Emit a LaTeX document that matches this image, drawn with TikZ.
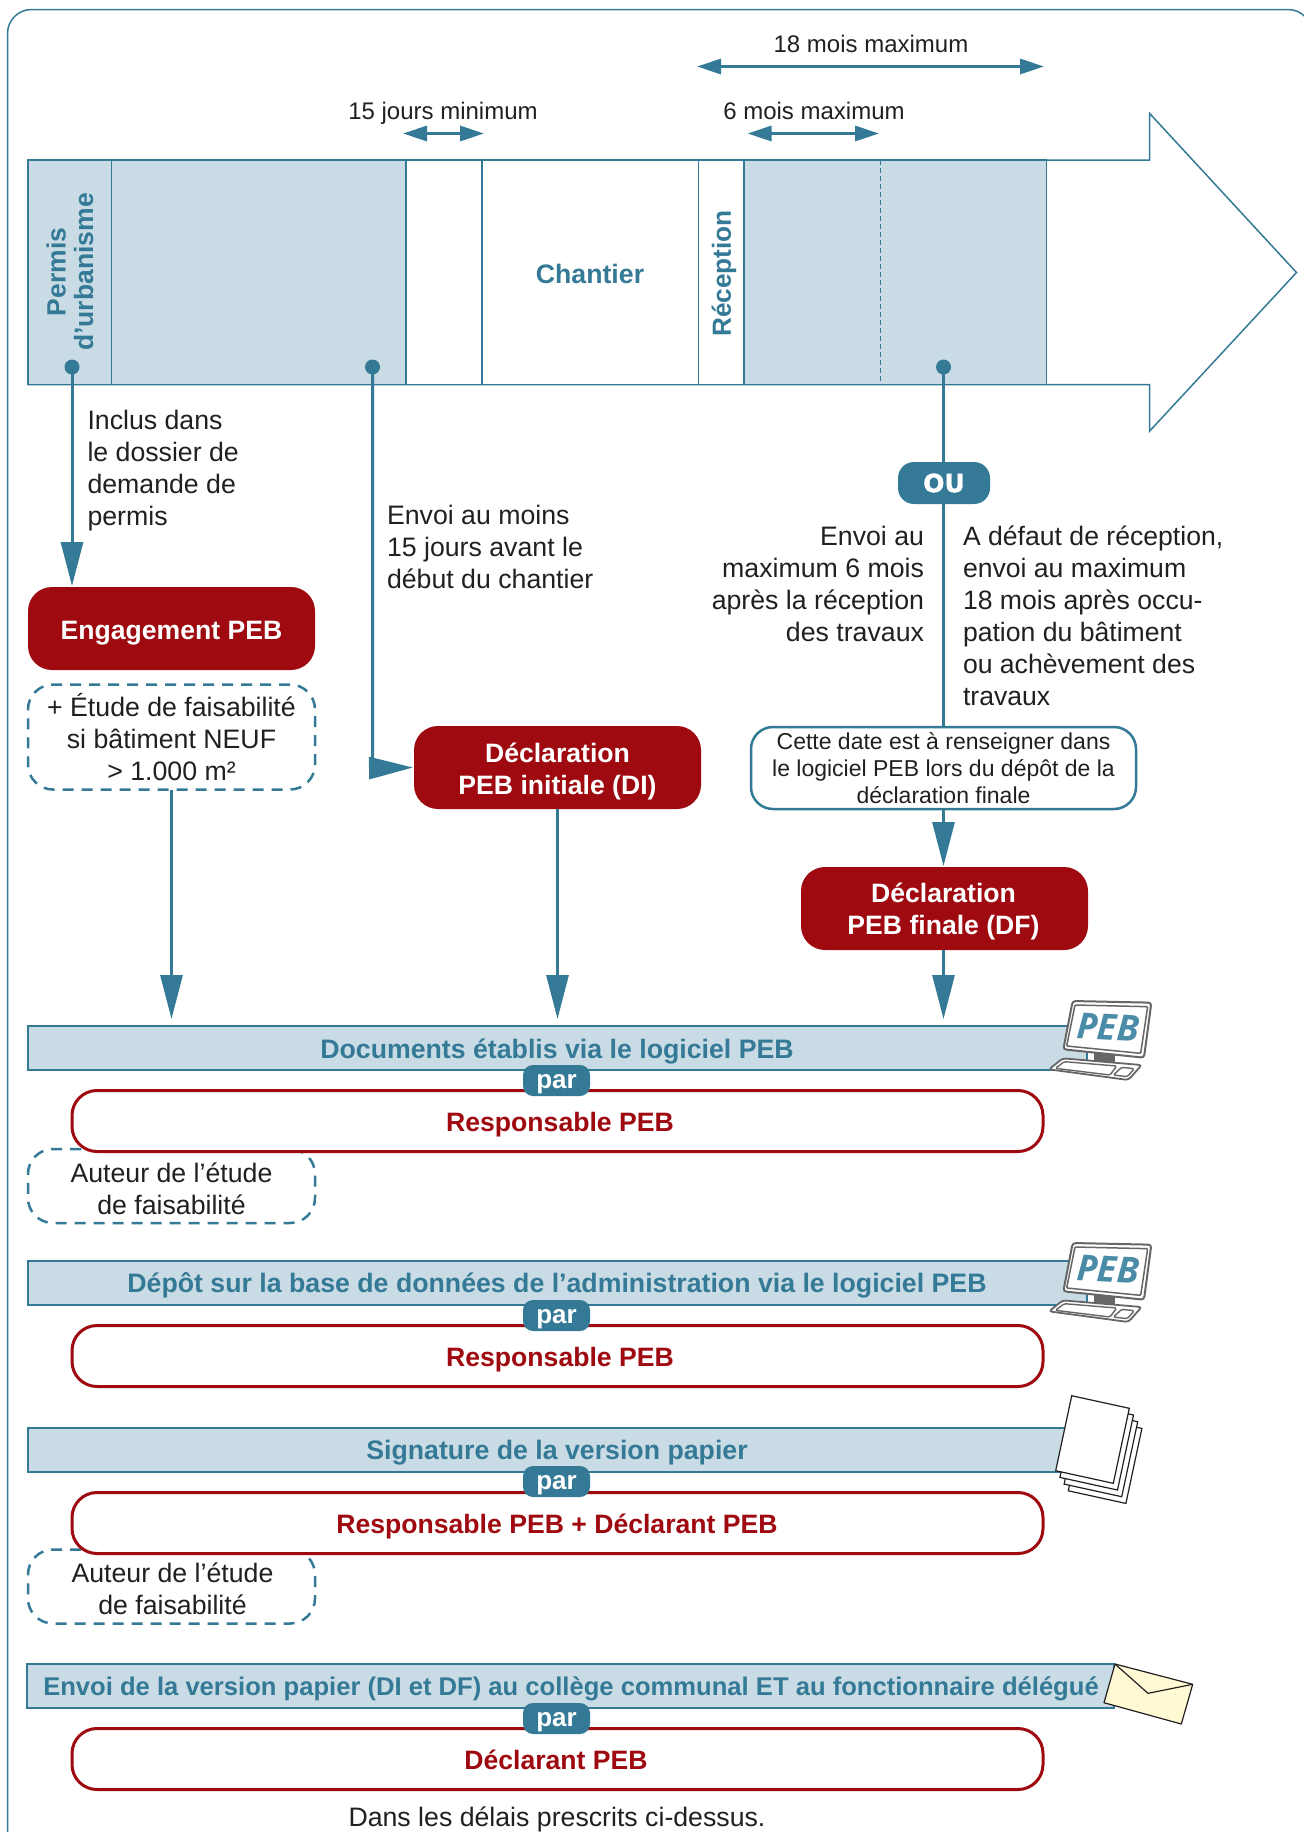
\documentclass[tikz,border=0pt]{standalone}
\usepackage{fontspec}
\setmainfont{Liberation Sans}
\newfontfamily\pebfont{Open Sans}
\newfontfamily\oufont[BoldFeatures={FakeBold=1.5}]{DejaVu Sans}
\usetikzlibrary{arrows.meta}
\definecolor{teal}{HTML}{347A96}
\definecolor{pale}{HTML}{C9DBE5}
\definecolor{wine}{HTML}{9E0A10}
\definecolor{ink}{HTML}{231F20}
\definecolor{scr}{HTML}{666666}
\definecolor{pebblue}{HTML}{4A8CA8}
\definecolor{envy}{HTML}{FFFAD4}
\newcommand{\fs}[2]{\fontsize{#1}{#2}\selectfont}
\tikzset{
  every node/.style={inner sep=0pt,outer sep=0pt,text=ink},
  body/.style={font=\fs{26.7}{32}},
  small/.style={font=\fs{24}{29}},
  cell/.style={rectangle,anchor=north west,minimum height=224.5pt,fill=pale,draw=teal,line width=1.5pt},
  whitecell/.style={cell,fill=white},
  head/.style={font=\bfseries\fs{26.7}{32},text=teal},
  redbox/.style={rectangle,rounded corners=24pt,fill=wine,minimum width=287pt,minimum height=83pt},
  redtext/.style={text=white,font=\bfseries\fs{26.6}{32},align=center},
  dashbox/.style={rectangle,rounded corners=25pt,draw=teal,line width=2.5pt,dash pattern=on 11pt off 8pt,fill=white,minimum width=287pt},
  band/.style={rectangle,anchor=north west,fill=pale,draw=teal,line width=1.5pt,minimum height=44pt},
  pill/.style={rectangle,rounded corners=10pt,fill=teal,minimum width=67pt,minimum height=31pt,text=white,font=\bfseries\fs{26}{30},text height=20pt,text depth=5pt},
  whobox/.style={rectangle,rounded corners=25pt,draw=wine,line width=3pt,fill=white,minimum width=971pt,minimum height=61pt},
  whotext/.style={font=\bfseries\fs{26.6}{30},text=wine},
  link/.style={draw=teal,line width=3pt},
  bigarrow/.style={link,-{Triangle[length=44pt,width=22pt]},shorten >=1pt},
  span/.style={link,{Triangle[length=24pt,width=15pt]}-{Triangle[length=24pt,width=15pt]}},
  computer/.pic={
    \begin{scope}[x=.33333pt,y=-.33333pt]
      \fill[scr] (222,218) rectangle (285,246);
      \draw[draw=scr,fill=white,line width=2pt,rounded corners=3pt] (158,63) -- (394,68) -- (372,233) -- (130,208) -- cycle;
      \draw[draw=scr,line width=1.5pt,rounded corners=1pt] (165,75) -- (383,80) -- (362,220) -- (140,198) -- cycle;
      \node[rotate=-3,text=pebblue,font=\pebfont\bfseries\itshape\fs{36}{36}] at (264,141) {PEB};
      \draw[draw=scr,fill=white,line width=1.8pt,rounded corners=3pt] (128,235) -- (365,255) -- (325,300) -- (87,268) -- cycle;
      \draw[draw=scr,line width=1.4pt,rounded corners=1.5pt] (133,245) -- (290,258) -- (270,285) -- (106,265) -- cycle;
      \draw[draw=scr,line width=1.4pt,rounded corners=1.5pt] (305,262) -- (343,266) -- (322,290) -- (280,285) -- cycle;
    \end{scope}
  },
}
\begin{document}
\begin{tikzpicture}[x=1pt,y=-1pt]
\useasboundingbox (0,0) rectangle (1304,1832);
\clip (0,0) rectangle (1304,1832);
% frame
\draw[teal,line width=1.5pt,rounded corners=24pt] (7.5,9.5) rectangle (1312,1860);
% time arrow
\draw[teal,line width=1.5pt] (28,160) -- (1149.7,160) -- (1149.7,113.5) -- (1296.5,272.5) -- (1149.7,431) -- (1149.7,384.5) -- (28,384.5) -- cycle;
\node[cell,minimum width=83.4pt] (permis) at (28,160) {};
\node[cell,minimum width=294.6pt] (avant) at (111.4,160) {};
\node[whitecell,minimum width=76pt] (quinze) at (406,160) {};
\node[whitecell,minimum width=216.6pt] (chantier) at (482,160) {};
\node[whitecell,minimum width=45.4pt] (recep) at (698.6,160) {};
\node[cell,minimum width=302.6pt] (apres) at (744,160) {};
\coordinate (sixtop) at (880,160);
\coordinate (sixbot) at (880,384.5);
\draw[teal,line width=1pt,dash pattern=on 5pt off 3pt] (sixtop) -- (sixbot);
% labels in the arrow
\node[head,rotate=90,align=center,font=\bfseries\fs{26.5}{27.5}] (permislbl) at (70,272) {Permis\\d’urbanisme};
\node[head] (chantierlbl) at (590,273.5) {Chantier};
\node[head,rotate=90,font=\bfseries\fs{26.2}{32}] (receplbl) at (724,273.5) {Réception};
% duration spans
\node[small] (t18) at (871,44) {18 mois maximum};
\node[small] (t6) at (814,111) {6 mois maximum};
\node[small] (t15) at (443,113) {15 jours minimum};
\coordinate (s18a) at (697,66.5); \coordinate (s18b) at (1044,66.5);
\coordinate (s6a) at (747.5,133.5); \coordinate (s6b) at (879,133.5);
\coordinate (s15a) at (403,133.5); \coordinate (s15b) at (484,133.5);
\draw[span] (s18a) -- (s18b);
\draw[span] (s6a) -- (s6b);
\draw[span] (s15a) -- (s15b);
% boxes
\node[redbox] (eng) at (171.5,628.5) {};
\node[redtext] (engt) at (171.5,633.5) {Engagement PEB};
\node[dashbox,minimum height=105pt] (etude) at (171.5,737) {};
\node[body,align=center] (etudetxt) at (171.5,737.5) {+ Étude de faisabilité\\si bâtiment NEUF\\> 1.000 m²};
\node[redbox] (di) at (557.5,767.5) {};
\node[redtext] (dit) at (557.5,771) {Déclaration\\PEB initiale (DI)};
\node[rectangle,rounded corners=22pt,draw=teal,line width=2.5pt,fill=white,minimum width=385pt,minimum height=82pt,align=center,font=\fs{23}{27}] (note) at (943.5,768) {Cette date est à renseigner dans\\le logiciel PEB lors du dépôt de la\\déclaration finale};
\node[redbox] (df) at (944.5,908.5) {};
\node[redtext] (dft) at (943.5,911.5) {Déclaration\\PEB finale (DF)};
\node[body,align=left,anchor=west] (inclus) at (87.5,470.5) {Inclus dans\\le dossier de\\demande de\\permis};
\node[body,align=left,anchor=west] (envoi15) at (387,547) {Envoi au moins\\15 jours avant le\\début du chantier};
\node[body,align=right,anchor=east] (envoi6) at (924,584) {Envoi au\\maximum 6 mois\\après la réception\\des travaux};
\node[body,align=left,anchor=west,font=\fs{26.6}{32}] (envoi18) at (963,615.5) {A défaut de réception,\\envoi au maximum\\18 mois après occu-\\pation du bâtiment\\ou achèvement des\\travaux};
% bands
\node[band,minimum width=1059pt] (bandA) at (28,1026) {};
\node[band,minimum width=1059pt] (bandB) at (28,1261) {};
\node[band,minimum width=1040pt] (bandC) at (28,1428) {};
\node[band,minimum width=1087pt] (bandD) at (27,1664) {};
\node[head] (bandAt) at (557,1051.5) {Documents établis via le logiciel PEB};
\node[head] (bandBt) at (557,1285.5) {Dépôt sur la base de données de l’administration via le logiciel PEB};
\node[head] (bandCt) at (557,1453) {Signature de la version papier};
\node[head,font=\bfseries\fs{25.6}{32}] (bandDt) at (571,1688.5) {Envoi de la version papier (DI et DF) au collège communal ET au fonctionnaire délégué};
% connectors
\node[circle,fill=teal,minimum size=15pt] (dotA) at (72,367) {};
\node[circle,fill=teal,minimum size=15pt] (dotB) at (372.5,367) {};
\node[circle,fill=teal,minimum size=15pt] (dotC) at (943.5,367) {};
\coordinate (elbow) at (372.5,768);
\coordinate (toA) at (171.5,1020);
\coordinate (toB) at (557.5,1020);
\coordinate (toC) at (943.5,1020);
\draw[bigarrow] (dotA.center) -- (dotA|-eng.north);
\draw[bigarrow] (dotB.center) -- (elbow) -- (di.west);
\draw[link] (dotC.center) -- (dotC|-note.north);
\node[rectangle,rounded corners=16pt,fill=teal,minimum width=92pt,minimum height=42pt,text=white,font=\oufont\bfseries\fs{25}{25}] (ou) at (944,483) {OU};
\draw[bigarrow] (note.south) -- (note.south|-df.north);
\draw[bigarrow] (etude.south) -- (toA);
\draw[bigarrow] (di.south) -- (toB);
\draw[bigarrow] (df.south-|toC) -- (toC);
% responsible boxes
\node[dashbox,minimum height=74pt] (auteurA) at (171.5,1186) {};
\node[body,align=center] (auteurAt) at (171.5,1189) {Auteur de l’étude\\de faisabilité};
\node[dashbox,minimum height=74pt] (auteurC) at (171.5,1586.5) {};
\node[body,align=center] (auteurCt) at (172.5,1588.5) {Auteur de l’étude\\de faisabilité};
\node[whobox] (whoA) at (557.5,1121) {};
\node[whobox] (whoB) at (557.5,1356) {};
\node[whobox] (whoC) at (557.5,1523) {};
\node[whobox] (whoD) at (557.5,1759) {};
\node[whotext] (whoAt) at (560,1124.5) {Responsable PEB};
\node[whotext] (whoBt) at (560,1359.5) {Responsable PEB};
\node[whotext] (whoCt) at (557,1526.5) {Responsable PEB + Déclarant PEB};
\node[whotext] (whoDt) at (556,1760) {Déclarant PEB};
\node[pill] (parA) at (556.5,1080.5) {par};
\node[pill] (parB) at (556.5,1315.5) {par};
\node[pill] (parC) at (556.5,1481.5) {par};
\node[pill] (parD) at (556.5,1718.5) {par};
% icons
\pic (compA) at (1020,980) {computer};
\pic (compB) at (1020,1222) {computer};
\foreach \k in {3,2,1,0}{
  \draw[ink,fill=white,line width=1.2pt,shift={(\k*4.2,\k*6.7)}] (1071.7,1395.7) -- (1129.3,1408.3) -- (1113.3,1483.3) -- (1055.7,1470.7) -- cycle;
}
\draw[ink,fill=envy,line width=1.2pt,line join=round] (1115,1664) -- (1192.7,1684.3) -- (1181.3,1724) -- (1104,1702.7) -- cycle;
\draw[ink,line width=1.2pt,line join=round] (1115,1664) -- (1148,1693.3) -- (1192.7,1684.3);
% footer
\node[body] (foot) at (557,1819) {Dans les délais prescrits ci-dessus.};
\end{tikzpicture}
\end{document}
